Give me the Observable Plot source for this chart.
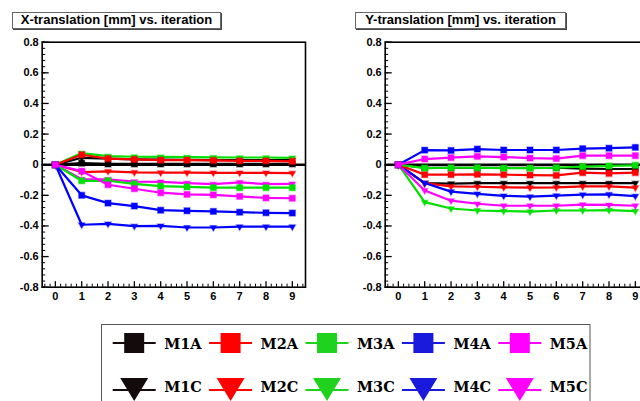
<!DOCTYPE html>
<html>
<head>
<meta charset="utf-8">
<script src="https://cdn.jsdelivr.net/npm/d3@7"></script>
<script src="https://cdn.jsdelivr.net/npm/@observablehq/plot@0.6"></script>
<style>
html, body { margin: 0; padding: 0; background: #fff; }
body { width: 640px; height: 401px; overflow: hidden; position: relative; }
.panel { position: absolute; top: 0; width: 320px; height: 310px; }
.panel svg { max-width: none !important; }
.title {
  position: absolute; top: 12px; height: 17px; box-sizing: border-box;
  border: 1px solid #666; box-shadow: 1px 1px 0 #444; background: #fff;
  font: bold 13px "Liberation Sans", Arial, sans-serif; line-height: 13px;
  text-align: center; color: #000; white-space: nowrap; z-index: 2;
}
#legend { position: absolute; left: 0; top: 0; }
</style>
</head>
<body>
<div class="title" style="left:12px; width:209px;">X-translation [mm] vs. iteration</div>
<div class="title" style="left:355px; width:211px;">Y-translation [mm] vs. iteration</div>
<div id="left" class="panel" style="left:0px;"></div>
<div id="right" class="panel" style="left:343px;"></div>
<script>
// ---------------- data ----------------
const iterations = [0, 1, 2, 3, 4, 5, 6, 7, 8, 9];
const seriesNames = ["M1A", "M2A", "M3A", "M4A", "M5A", "M1C", "M2C", "M3C", "M4C", "M5C"];
const seriesColors = ["#000000", "#ff0000", "#00e000", "#0000ff", "#ff00ff",
                      "#000000", "#ff0000", "#00e000", "#0000ff", "#ff00ff"];
const legendColors = ["#140c0c", "#ff0000", "#1ed21e", "#1a1adc", "#ff00ff",
                      "#140c0c", "#ff0000", "#1ed21e", "#1a1adc", "#ff00ff"];
const drawOrder = ["M1C", "M2C", "M3C", "M4C", "M5C", "M1A", "M2A", "M3A", "M4A", "M5A"];

// X-translation [mm]
const xM1A = [0, 0.010, 0.005, 0.005, 0.005, 0.005, 0.005, 0.005, 0.005, 0.005];
const xM2A = [0, 0.065, 0.040, 0.035, 0.030, 0.030, 0.028, 0.025, 0.025, 0.022];
const xM3A = [0, -0.105, -0.105, -0.125, -0.140, -0.145, -0.150, -0.150, -0.150, -0.150];
const xM4A = [0, -0.200, -0.251, -0.270, -0.297, -0.301, -0.305, -0.310, -0.314, -0.316];
const xM5A = [0, -0.042, -0.131, -0.157, -0.183, -0.194, -0.197, -0.207, -0.217, -0.219];
const xM1C = [0, 0.045, 0.040, 0.035, 0.033, 0.032, 0.030, 0.030, 0.030, 0.030];
const xM2C = [0, -0.048, -0.043, -0.050, -0.052, -0.052, -0.053, -0.053, -0.053, -0.055];
const xM3C = [0, 0.076, 0.056, 0.052, 0.051, 0.049, 0.048, 0.047, 0.047, 0.045];
const xM4C = [0, -0.392, -0.386, -0.401, -0.399, -0.410, -0.410, -0.405, -0.405, -0.405];
const xM5C = [0, -0.095, -0.096, -0.110, -0.112, -0.120, -0.127, -0.115, -0.127, -0.125];

// Y-translation [mm]
const yM1A = [0, -0.020, -0.020, -0.020, -0.020, -0.020, -0.020, -0.025, -0.028, -0.028];
const yM2A = [0, -0.065, -0.065, -0.063, -0.065, -0.068, -0.070, -0.052, -0.057, -0.052];
const yM3A = [0, -0.022, -0.020, -0.020, -0.022, -0.022, -0.020, -0.012, -0.008, -0.004];
const yM4A = [0, 0.095, 0.093, 0.102, 0.096, 0.096, 0.096, 0.105, 0.108, 0.113];
const yM5A = [0, 0.037, 0.046, 0.054, 0.050, 0.043, 0.040, 0.059, 0.059, 0.059];
const yM1C = [0, -0.120, -0.124, -0.120, -0.120, -0.120, -0.120, -0.120, -0.120, -0.120];
const yM2C = [0, -0.120, -0.142, -0.144, -0.148, -0.150, -0.148, -0.142, -0.142, -0.150];
const yM3C = [0, -0.244, -0.286, -0.299, -0.303, -0.307, -0.299, -0.299, -0.297, -0.303];
const yM4C = [0, -0.120, -0.176, -0.190, -0.203, -0.209, -0.202, -0.196, -0.194, -0.205];
const yM5C = [0, -0.168, -0.235, -0.255, -0.268, -0.268, -0.268, -0.261, -0.263, -0.268];

const yTickValues = [-0.8, -0.6, -0.4, -0.2, 0, 0.2, 0.4, 0.6, 0.8];
const xTickValues = iterations;

const xPanel = {M1A: xM1A, M2A: xM2A, M3A: xM3A, M4A: xM4A, M5A: xM5A,
                M1C: xM1C, M2C: xM2C, M3C: xM3C, M4C: xM4C, M5C: xM5C};
const yPanel = {M1A: yM1A, M2A: yM2A, M3A: yM3A, M4A: yM4A, M5A: yM5A,
                M1C: yM1C, M2C: yM2C, M3C: yM3C, M4C: yM4C, M5C: yM5C};

// ---------------- layout ----------------
const W = 320, H = 310;
const ML = 41.7, MR = 15, MT = 41.7, MB = 23.3;
const FW = W - ML - MR, FH = H - MT - MB;
const xMinor = d3.range(-2, 48).map(i => i * 0.2).filter(v => Math.abs(v - Math.round(v)) > 1e-6);
const yMinor = d3.range(-20, 21).map(i => i * 0.04);

function makePanel(values) {
  const rows = drawOrder.flatMap(name =>
    iterations.map((it, i) => ({series: name, iter: it, value: values[name][i]})));
  const marks = [
    Plot.ruleY([0], {stroke: "black", strokeWidth: 2.5}),
    Plot.tickX(xMinor, {x: d => d, insetTop: FH - 3, stroke: "black", strokeWidth: 1}),
    Plot.tickX(xTickValues, {x: d => d, insetTop: FH - 5.5, stroke: "black", strokeWidth: 1.3}),
    Plot.tickY(yMinor, {y: d => d, insetRight: FW - 3.5, stroke: "black", strokeWidth: 1}),
    Plot.tickY(yTickValues, {y: d => d, insetRight: FW - 7, stroke: "black", strokeWidth: 1.3}),
    Plot.axisX({ticks: xTickValues, tickSize: 0, tickPadding: 5, label: null,
                tickFormat: d => String(d)}),
    Plot.axisY({ticks: yTickValues, tickSize: 0, tickPadding: 3.5, label: null,
                tickFormat: d => (d === 0 ? "0" : d.toFixed(1))})
  ];
  for (const name of drawOrder) {
    const d = rows.filter(r => r.series === name);
    const isC = name.endsWith("C");
    marks.push(Plot.line(d, {x: "iter", y: "value", stroke: "series", strokeWidth: 2.2}));
    marks.push(Plot.dot(d, {
      x: "iter", y: "value", fill: "series", stroke: "series",
      strokeOpacity: 0.35, strokeWidth: 1.4,
      symbol: isC ? "triangle" : "square", rotate: isC ? 180 : 0, r: isC ? 2.4 : 3.4
    }));
  }
  marks.push(Plot.frame({stroke: "black", strokeWidth: 1.6}));
  const svg = Plot.plot({
    width: W, height: H,
    marginLeft: ML, marginRight: MR, marginTop: MT, marginBottom: MB,
    x: {domain: [-0.5, 9.5]},
    y: {domain: [-0.8, 0.8]},
    color: {domain: seriesNames, range: seriesColors},
    style: {fontFamily: '"Liberation Sans", Arial, sans-serif', fontSize: "11px",
            fontWeight: "bold", background: "transparent", color: "black",
            overflow: "visible", maxWidth: "none"},
    marks
  });
  svg.setAttribute("width", W);
  svg.setAttribute("height", H);
  svg.style.width = W + "px";
  svg.style.height = H + "px";
  return svg;
}

document.getElementById("left").appendChild(makePanel(xPanel));
document.getElementById("right").appendChild(makePanel(yPanel));

// ---------------- legend ----------------
const svg = d3.select("body").append("svg").attr("id", "legend")
  .attr("width", 640).attr("height", 401);
svg.append("rect").attr("x", 101.5).attr("y", 324.5).attr("width", 488.5).attr("height", 120)
  .attr("fill", "white").attr("stroke", "#555").attr("stroke-width", 1);
seriesNames.forEach((name, k) => {
  const col = k % 5, row = Math.floor(k / 5);
  const x0 = 112.7 + 96.4 * col;
  const cx = x0 + 21.5;
  const color = legendColors[k];
  const ly = row === 0 ? 343 : 390;
  const g = svg.append("g");
  g.append("line").attr("x1", x0).attr("x2", x0 + 43).attr("y1", ly).attr("y2", ly)
    .attr("stroke", color).attr("stroke-width", 2);
  if (row === 0) {
    g.append("rect").attr("x", cx - 10).attr("y", ly - 10).attr("width", 20).attr("height", 20)
      .attr("fill", color);
  } else {
    g.append("path").attr("d", `M${cx - 14},378 L${cx + 14},378 L${cx},401 Z`).attr("fill", color);
  }
  g.append("text").attr("x", x0 + 51.5).attr("y", row === 0 ? 348.5 : 392)
    .attr("font-family", '"DejaVu Serif", serif').attr("font-weight", "bold")
    .attr("font-size", 14.5).attr("fill", "black").text(name);
});
</script>
</body>
</html>
